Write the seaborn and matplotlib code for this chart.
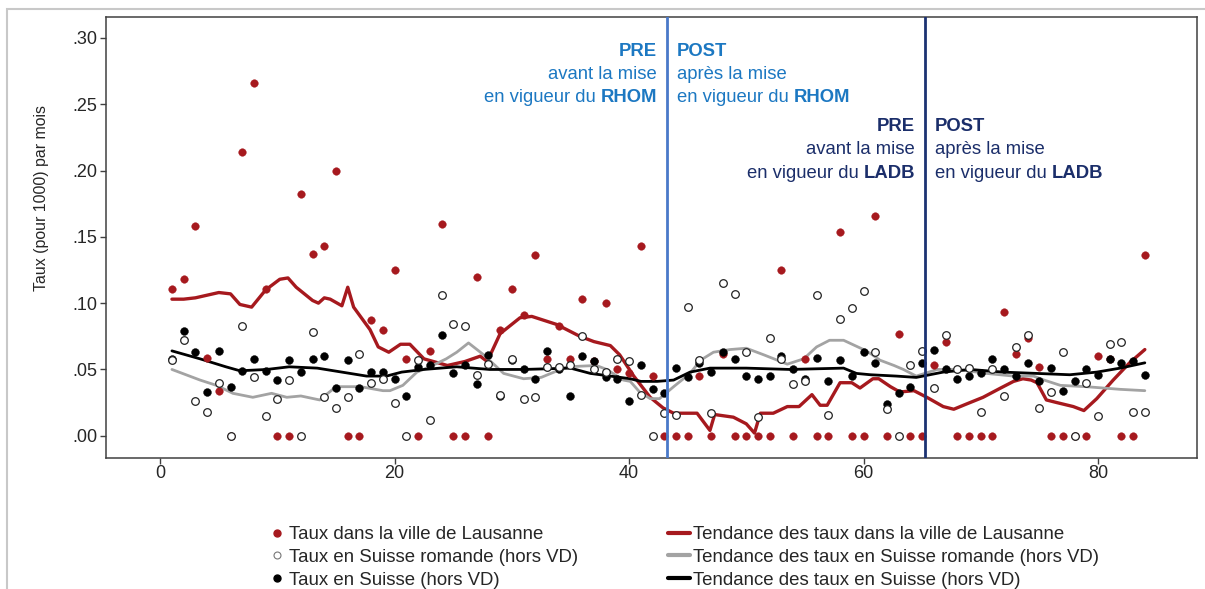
import matplotlib
matplotlib.use("Agg")
import matplotlib.pyplot as plt
import seaborn as sns
import pandas as pd
from matplotlib.lines import Line2D
from matplotlib.patches import Rectangle
from matplotlib.transforms import offset_copy

# --- DATA ---
months = list(range(1, 85))

taux_lausanne = [
    0.111, 0.118, 0.158, 0.059, 0.034, 0.000, 0.214, 0.266, 0.111, 0.000,
    0.000, 0.182, 0.137, 0.143, 0.200, 0.000, 0.000, 0.087, 0.080, 0.125,
    0.058, 0.000, 0.064, 0.160, 0.000, 0.000, 0.120, 0.000, 0.080, 0.111,
    0.091, 0.136, 0.058, 0.083, 0.058, 0.103, 0.056, 0.100, 0.050, 0.047,
    0.143, 0.045, 0.000, 0.000, 0.000, 0.045, 0.000, 0.062, 0.000, 0.000,
    0.000, 0.000, 0.125, 0.000, 0.058, 0.000, 0.000, 0.154, 0.000, 0.000,
    0.166, 0.000, 0.077, 0.000, 0.000, 0.053, 0.071, 0.000, 0.000, 0.000,
    0.000, 0.093, 0.062, 0.074, 0.052, 0.000, 0.000, 0.000, 0.000, 0.060,
    0.058, 0.000, 0.000, 0.136,
]

taux_romande = [
    0.057, 0.072, 0.026, 0.018, 0.040, 0.000, 0.083, 0.044, 0.015, 0.028,
    0.042, 0.000, 0.078, 0.029, 0.021, 0.029, 0.062, 0.040, 0.043, 0.025,
    0.000, 0.057, 0.012, 0.106, 0.084, 0.083, 0.046, 0.054, 0.031, 0.058,
    0.028, 0.029, 0.052, 0.052, 0.053, 0.075, 0.050, 0.048, 0.058, 0.056,
    0.031, 0.000, 0.017, 0.016, 0.097, 0.057, 0.017, 0.115, 0.107, 0.063,
    0.014, 0.074, 0.058, 0.039, 0.041, 0.106, 0.016, 0.088, 0.096, 0.109,
    0.063, 0.020, 0.000, 0.053, 0.064, 0.036, 0.076, 0.050, 0.051, 0.018,
    0.050, 0.030, 0.067, 0.076, 0.021, 0.033, 0.063, 0.000, 0.040, 0.015,
    0.069, 0.071, 0.018, 0.018,
]

taux_suisse = [
    0.058, 0.079, 0.063, 0.033, 0.064, 0.037, 0.049, 0.058, 0.049, 0.042,
    0.057, 0.048, 0.058, 0.060, 0.036, 0.057, 0.036, 0.048, 0.048, 0.043,
    0.030, 0.052, 0.053, 0.076, 0.047, 0.053, 0.039, 0.061, 0.030, 0.057,
    0.050, 0.043, 0.064, 0.050, 0.030, 0.060, 0.056, 0.044, 0.043, 0.026,
    0.053, 0.035, 0.032, 0.051, 0.044, 0.055, 0.048, 0.063, 0.058, 0.045,
    0.043, 0.045, 0.060, 0.050, 0.043, 0.059, 0.041, 0.057, 0.045, 0.063,
    0.055, 0.024, 0.032, 0.037, 0.055, 0.065, 0.050, 0.043, 0.045, 0.047,
    0.058, 0.050, 0.045, 0.055, 0.041, 0.051, 0.034, 0.041, 0.050, 0.046,
    0.058, 0.055, 0.056, 0.046,
]

# trend lines (smoothed curves as drawn in the chart)
tend_lausanne_x = [1, 2, 3, 4, 5, 6, 6.8, 7.8, 9, 10.2, 10.9, 11.6, 13, 13.5, 14, 14.5,
                   15.5, 16, 16.5, 17.9, 18.6, 19.5, 20.5, 21.3, 22.5, 24.5, 26, 27.3,
                   27.9, 29, 30.7, 31.7, 33.8, 35.8, 37, 38.4, 39.2, 40.4, 41.8, 42.9,
                   43.8, 45.8, 46.9, 47.3, 48.9, 50, 50.7, 51.2, 52.3, 53.5, 54.5, 55.6,
                   56.3, 56.9, 58, 59, 59.7, 60.8, 61.3, 62.3, 63.1, 64.3, 65.4, 66.8,
                   67.7, 68.8, 70.2, 71.7, 72.8, 73.6, 74.3, 74.8, 75.6, 76.5, 77.9,
                   78.8, 79.9, 81.3, 82.7, 84]
tend_lausanne_y = [0.103, 0.103, 0.104, 0.106, 0.108, 0.107, 0.099, 0.097, 0.110, 0.118,
                   0.119, 0.112, 0.102, 0.100, 0.104, 0.103, 0.098, 0.112, 0.097, 0.080,
                   0.067, 0.063, 0.069, 0.069, 0.058, 0.053, 0.056, 0.060, 0.056, 0.077,
                   0.089, 0.090, 0.084, 0.075, 0.071, 0.068, 0.061, 0.045, 0.029, 0.021,
                   0.017, 0.017, 0.004, 0.016, 0.014, 0.009, 0.002, 0.017, 0.017, 0.022,
                   0.022, 0.031, 0.023, 0.023, 0.040, 0.040, 0.036, 0.043, 0.043, 0.037,
                   0.033, 0.034, 0.029, 0.022, 0.020, 0.024, 0.029, 0.036, 0.041, 0.043,
                   0.042, 0.040, 0.027, 0.025, 0.022, 0.019, 0.028, 0.042, 0.055, 0.065]

tend_romande_x = [1, 3.4, 4.8, 6.2, 7.9, 9.5, 10.8, 12, 13.6, 15, 16.2, 17.1, 19, 19.6,
                  20.7, 21.9, 23, 24.4, 25.3, 26.3, 27.6, 29.3, 31, 32.5, 34.7, 37.2,
                  38.1, 39.5, 40.1, 40.9, 41.8, 42.6, 43.8, 45.2, 46.1, 47.2, 48.6, 50,
                  51.5, 53.5, 54.9, 56, 57.1, 58.3, 60, 60.6, 61.4, 62.6, 63.4, 64.5,
                  66.3, 68, 70.5, 72.8, 74.5, 75.4, 76.8, 79, 81.9, 84]
tend_romande_y = [0.050, 0.042, 0.038, 0.032, 0.029, 0.032, 0.029, 0.030, 0.027, 0.037,
                  0.037, 0.037, 0.034, 0.034, 0.038, 0.048, 0.052, 0.058, 0.063, 0.070,
                  0.061, 0.047, 0.043, 0.044, 0.052, 0.053, 0.050, 0.042, 0.041, 0.033,
                  0.028, 0.028, 0.037, 0.047, 0.057, 0.063, 0.065, 0.066, 0.061, 0.054,
                  0.058, 0.067, 0.072, 0.072, 0.065, 0.062, 0.057, 0.053, 0.050, 0.045,
                  0.050, 0.050, 0.047, 0.045, 0.045, 0.042, 0.038, 0.037, 0.035, 0.034]

tend_suisse_x = [1, 3.4, 5.6, 6.8, 9.1, 11, 13.4, 15.5, 17.6, 19.3, 20.6, 22.5, 25.3,
                 28.1, 31, 35, 36.7, 38.4, 40.1, 41, 42.4, 43.8, 45.2, 46.9, 50, 53.7,
                 58.3, 59.4, 60.6, 62.8, 64.5, 66.8, 69.1, 71.9, 74.8, 77.6, 79.9,
                 81.9, 84]
tend_suisse_y = [0.064, 0.058, 0.052, 0.049, 0.050, 0.052, 0.051, 0.048, 0.045, 0.045,
                 0.048, 0.050, 0.052, 0.050, 0.050, 0.051, 0.047, 0.045, 0.043, 0.041,
                 0.041, 0.042, 0.048, 0.051, 0.051, 0.050, 0.051, 0.047, 0.046, 0.045,
                 0.044, 0.048, 0.050, 0.048, 0.047, 0.046, 0.048, 0.051, 0.055]

date_rhom = 43.25
date_ladb = 65.25

labels_points = ["Taux dans la ville de Lausanne",
                 "Taux en Suisse romande (hors VD)",
                 "Taux en Suisse (hors VD)"]
labels_lines = ["Tendance des taux dans la ville de Lausanne",
                "Tendance des taux en Suisse romande (hors VD)",
                "Tendance des taux en Suisse (hors VD)"]

# --- STYLE ---
RED = "#a6191e"
GREY = "#a3a3a3"
BLACK = "#000000"
BLUE_LINE = "#4a79c9"
BLUE_TEXT = "#1c78c2"
NAVY_LINE = "#1c3272"
NAVY_TEXT = "#1b2e6a"
AXIS = "#404040"

sns.set_style("white")
plt.rcParams["font.family"] = ["Liberation Sans", "DejaVu Sans"]

W, H = 1205, 589
fig = plt.figure(figsize=(W / 100, H / 100), dpi=100)
ax = fig.add_axes([105.7 / W, 1 - 458.3 / H, (1197 - 105.7) / W, (458.3 - 16.7) / H])

df = pd.DataFrame({"mois": months, "lausanne": taux_lausanne,
                   "romande": taux_romande, "suisse": taux_suisse})

# trend lines
for tx, ty, col, lw in [(tend_lausanne_x, tend_lausanne_y, RED, 2.4),
                        (tend_romande_x, tend_romande_y, GREY, 2.0),
                        (tend_suisse_x, tend_suisse_y, BLACK, 2.0)]:
    sns.lineplot(x=tx, y=ty, ax=ax, color=col, linewidth=lw, estimator=None,
                 sort=False, legend=False, zorder=2)

# points
sns.scatterplot(data=df, x="mois", y="lausanne", ax=ax, color=RED, s=30,
                edgecolor=RED, linewidth=0.3, legend=False, zorder=3)
sns.scatterplot(data=df, x="mois", y="suisse", ax=ax, color=BLACK, s=32,
                edgecolor=BLACK, linewidth=0.3, legend=False, zorder=4)
sns.scatterplot(data=df, x="mois", y="romande", ax=ax, color="white", s=30,
                edgecolor="#222222", linewidth=0.9, legend=False, zorder=5)

# reference lines
ax.axvline(date_rhom, color=BLUE_LINE, linewidth=2, zorder=6)
ax.axvline(date_ladb, color=NAVY_LINE, linewidth=2, zorder=6)

ax.set_xlim(-4.65, 88.45)
ax.set_ylim(-0.017, 0.316)
ax.set_xticks([0, 20, 40, 60, 80])
ax.set_yticks([0, 0.05, 0.10, 0.15, 0.20, 0.25, 0.30])
ax.set_yticklabels([f"{v:.2f}".lstrip("0") for v in ax.get_yticks()])
ax.set_xlabel("")
ax.set_ylabel("Taux (pour 1000) par mois", fontsize=11.4)
ax.yaxis.set_label_coords(-0.052, 0.59)
ax.tick_params(axis="both", direction="out", length=4, width=1, color=AXIS,
               labelsize=13, pad=2, left=True, bottom=True)
ax.tick_params(axis="x", pad=1)
for sp in ax.spines.values():
    sp.set_color(AXIS)
    sp.set_linewidth(1.1)

# --- PRE / POST annotations ---
renderer = fig.canvas.get_renderer()
FS = 13.3
space_px = 0.278 * FS * fig.dpi / 72


def text_line(x, y, parts, side, color):
    off = 10 if side == "left" else -10
    seq = parts if side == "left" else parts[::-1]
    for i, (s, weight) in enumerate(seq):
        tr = offset_copy(ax.transData, fig=fig, x=off, y=0, units="dots")
        t = ax.text(x, y, s, transform=tr, ha=side, va="center", fontsize=FS,
                    fontweight=weight, color=color, zorder=7)
        w = t.get_window_extent(renderer).width
        step = w + (space_px if i < len(seq) - 1 else 0)
        off = off + step if side == "left" else off - step


blocks = [
    (date_rhom, "right", BLUE_TEXT, [0.290, 0.2723, 0.2547],
     [[("PRE", "bold")], [("avant la mise", "normal")],
      [("en vigueur du", "normal"), ("RHOM", "bold")]]),
    (date_rhom, "left", BLUE_TEXT, [0.290, 0.2723, 0.2547],
     [[("POST", "bold")], [("après la mise", "normal")],
      [("en vigueur du", "normal"), ("RHOM", "bold")]]),
    (date_ladb, "right", NAVY_TEXT, [0.2333, 0.2157, 0.1981],
     [[("PRE", "bold")], [("avant la mise", "normal")],
      [("en vigueur du", "normal"), ("LADB", "bold")]]),
    (date_ladb, "left", NAVY_TEXT, [0.2333, 0.2157, 0.1981],
     [[("POST", "bold")], [("après la mise", "normal")],
      [("en vigueur du", "normal"), ("LADB", "bold")]]),
]
for x, side, col, ys, lines in blocks:
    for y, parts in zip(ys, lines):
        text_line(x, y, parts, side, col)

# --- LEGEND ---
LFS = 13.4
h_points = [
    Line2D([], [], ls="", marker="o", markersize=5, color=RED),
    Line2D([], [], ls="", marker="o", markersize=5, markerfacecolor="white",
           markeredgecolor="#777777", markeredgewidth=0.8),
    Line2D([], [], ls="", marker="o", markersize=5, color=BLACK),
]
h_lines = [Line2D([], [], color=c, linewidth=3) for c in (RED, GREY, BLACK)]

leg_top = 1 - 526 / H
leg1 = fig.legend(h_points, labels_points, loc="upper left",
                  bbox_to_anchor=(271.4 / W, leg_top), frameon=False,
                  fontsize=LFS, handlelength=0.6, handletextpad=0.35,
                  borderpad=0, borderaxespad=0, labelspacing=0.31)
leg2 = fig.legend(h_lines, labels_lines, loc="upper left",
                  bbox_to_anchor=(668 / W, leg_top), frameon=False,
                  fontsize=LFS, handlelength=1.18, handletextpad=0.16,
                  borderpad=0, borderaxespad=0, labelspacing=0.31)

# light outer frame
fig.patches.append(Rectangle((7 / W, -0.1), 1.2, 1.1 - 9 / H, transform=fig.transFigure,
                             fill=False, edgecolor="#c8c8c8", linewidth=1.5))

fig.savefig("out.png", dpi=100)
